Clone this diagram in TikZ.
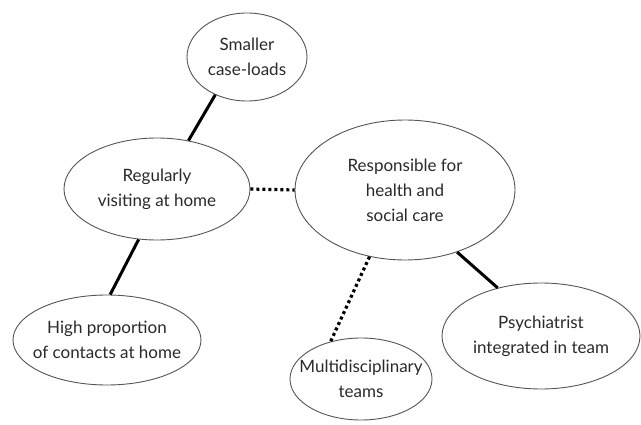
\documentclass[tikz,border=0pt]{standalone}
\usepackage{fontspec}
\setmainfont{Lato}
\usetikzlibrary{shapes.geometric}
\definecolor{txt}{HTML}{2A2A2A}
\definecolor{rim}{HTML}{555555}
\tikzset{
  bubble/.style={ellipse, draw=rim, line width=0.9pt, inner sep=0pt},
  words/.style={align=center, text=txt, font=\fontsize{17}{25}\selectfont, inner sep=0pt},
  solidlink/.style={line width=3pt, black},
  dotlink/.style={line width=3.2pt, black, dash pattern=on 3pt off 3pt}
}
\begin{document}
\begin{tikzpicture}[x=1pt,y=-1pt]
\useasboundingbox (0,0) rectangle (641,425);
\fill[white] (0,0) rectangle (641,425);
% ellipses
\node[bubble, minimum width=120pt, minimum height=88pt] (sm) at (247,57) {};
\node[bubble, minimum width=186pt, minimum height=102pt] (rv) at (157,189) {};
\node[bubble, minimum width=220pt, minimum height=140pt] (rs) at (405,190) {};
\node[bubble, minimum width=188pt, minimum height=90pt] (hp) at (107,340) {};
\node[bubble, minimum width=142pt, minimum height=82pt] (md) at (361,379) {};
\node[bubble, minimum width=198pt, minimum height=106pt] (ps) at (541,336) {};
% texts
\node[words] (tsm) at (sm) {Smaller\\case-loads};
\node[words] (trv) at (rv) {Regularly\\visiting at home};
\node[words] (trs) at (rs) {Responsible for\\health and\\social care};
\node[words] (thp) at (hp) {High proportion\\of contacts at home};
\node[words] (tmd) at (md) {Multidisciplinary\\teams};
\node[words] (tps) at (ps) {Psychiatrist\\integrated in team};
% connectors
\draw[solidlink] (sm.230) -- (rv.57);
\draw[solidlink] (rv.250) -- (hp.86);
\draw[solidlink] (rs.310) -- (ps.132);
\draw[dotlink] (rv.east) -- (rs.west);
\draw[dotlink] (rs.242) -- (md.129);
\end{tikzpicture}
\end{document}
